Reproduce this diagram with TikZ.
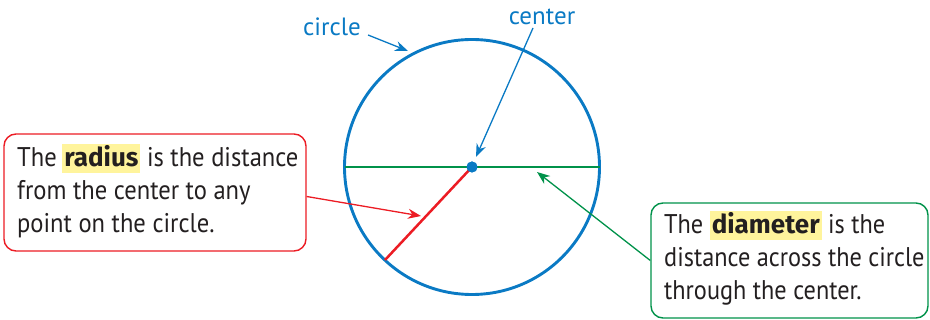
\documentclass[tikz,border=0pt]{standalone}
\usepackage{fontspec}
\setmainfont{PT Sans}
\newfontfamily\boxfont{PT Sans}[FakeStretch=0.91]
\newfontfamily\boxfontd{PT Sans}[FakeStretch=0.9]
\newfontfamily\hlfont{Fira Sans}
\usetikzlibrary{arrows.meta,calc}
\definecolor{cblue}{HTML}{0A7AC4}
\definecolor{cred}{HTML}{EC1C24}
\definecolor{cgreen}{HTML}{00924A}
\definecolor{chl}{HTML}{FFF49C}
\definecolor{ctext}{HTML}{231F20}
\newcommand{\hlword}[1]{{\setlength{\fboxsep}{2pt}\colorbox{chl}{\rule[-4pt]{0pt}{23pt}\hlfont\fontsize{26}{33}\selectfont\bfseries #1}}}
\tikzset{
  boxtext/.style={anchor=base west, inner sep=0pt, text=ctext, font=\boxfont\fontsize{27}{33}\selectfont},
  boxtextd/.style={anchor=base west, inner sep=0pt, text=ctext, font=\boxfontd\fontsize{27}{33}\selectfont},
  lbl/.style={anchor=base, inner sep=0pt, text=cblue, font=\fontsize{25}{30}\selectfont},
  callout/.style={draw, line width=1.4pt, rounded corners=12pt, fill=white, inner sep=0pt},
  arr/.style={line width=1.3pt, -{Stealth[length=13pt,width=10pt]}},
}
\begin{document}
\begin{tikzpicture}[x=1pt,y=-1pt]
\useasboundingbox (0,0) rectangle (930,320);
% callout boxes
\node[callout, draw=cred, minimum width=302pt, minimum height=117pt] (rbox) at (155,192.5) {};
\node[callout, draw=cgreen, minimum width=277pt, minimum height=115pt] (dbox) at (789.5,260.5) {};
% box texts
\node[boxtext] (r1) at (17,167) {The\hspace{-1pt} \hlword{radius} is the distance};
\node[boxtext] (r2) at (17,200) {from the center to any};
\node[boxtext] (r3) at (17,233) {point on the circle.};
\node[boxtextd] (d1) at (664,234) {The \hlword{diameter} is the};
\node[boxtextd] (d2) at (664,267) {distance across the circle};
\node[boxtextd] (d3) at (664,300) {through the center.};
% circle
\node[circle, fill=cblue, inner sep=0pt, minimum size=11pt] (c) at (472,167) {};
\draw[cblue, line width=2.9pt] (c.center) circle (127.5);
\coordinate (dl) at (344.5,167);
\coordinate (dr) at (599.5,167);
\coordinate (re) at (385,260);
\draw[cgreen, line width=2.8pt] (dl) -- (dr);
\draw[cred, line width=2.5pt] (re) -- (c.center);
\node[circle, fill=cblue, inner sep=0pt, minimum size=11pt] (c2) at (c) {};
% labels
\node[lbl] (lcircle) at (332,36) {circle};
\node[lbl] (lcenter) at (542,25) {center};
\coordinate (tcircle) at (408,51);
\coordinate (tcenter) at (476,157);
\coordinate (tradius) at (421,216);
\coordinate (tdiam) at (537,172);
% arrows
\draw[arr, cblue] ($(lcircle.base east)+(7,-1)$) -- (tcircle);
\draw[arr, cblue] ($(lcenter.base)+(-9,3)$) -- (tcenter);
\draw[arr, cred] ($(rbox.east)+(0,4)$) -- (tradius);
\draw[arr, cgreen] (dbox.west) -- (tdiam);
\end{tikzpicture}
\end{document}
